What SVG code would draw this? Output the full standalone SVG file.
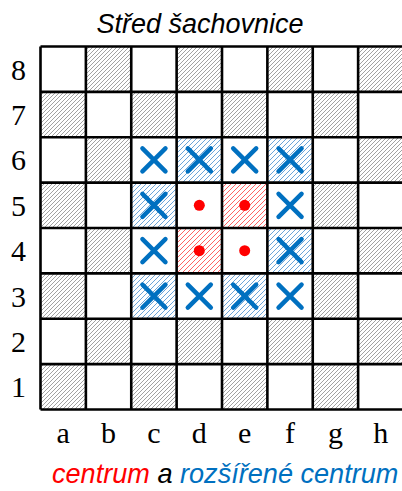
<svg xmlns="http://www.w3.org/2000/svg" xmlns:xlink="http://www.w3.org/1999/xlink" width="402" height="491" viewBox="0 0 402 491">
<style>
.lbl{font-family:"Liberation Serif","DejaVu Serif",serif;font-size:30px;fill:#000;text-anchor:middle}
.it{font-family:"Liberation Sans","DejaVu Sans",sans-serif;font-style:italic;font-size:27px}
.g{fill:url(#hg)}
.b{fill:url(#hb)}
.r{fill:url(#hr)}
.x{stroke:#0070C0;stroke-width:4.5;stroke-linecap:round;fill:none}
.dot{fill:#FF0000}
.grid{stroke:#000;stroke-width:2.6;fill:none}
</style>
<defs>
<pattern id="hg" patternUnits="userSpaceOnUse" width="4" height="4">
<rect width="4" height="4" fill="#fff"/>
<path d="M-1,1 L1,-1 M0,4 L4,0 M3,5 L5,3" stroke="#8a8a8a" stroke-width="0.8"/>
</pattern>
<pattern id="hb" patternUnits="userSpaceOnUse" width="5" height="5">
<rect width="5" height="5" fill="#fff"/>
<path d="M-1,1 L1,-1 M0,5 L5,0 M4,6 L6,4" stroke="#5B9BD5" stroke-width="0.9"/>
</pattern>
<pattern id="hr" patternUnits="userSpaceOnUse" width="5" height="5">
<rect width="5" height="5" fill="#fff"/>
<path d="M-1,1 L1,-1 M0,5 L5,0 M4,6 L6,4" stroke="#FF5050" stroke-width="0.9"/>
</pattern>
<path id="xm" class="x" d="M-11.5,-11.5 L11.5,11.5 M11.5,-11.5 L-11.5,11.5"/>
</defs>
<rect width="402" height="491" fill="#fff"/>
<text class="it" x="200" y="33" text-anchor="middle" fill="#000">Střed šachovnice</text>
<g id="board">
<g id="dark-squares">
<rect class="g" x="85.875" y="46.5" width="45.375" height="45.375"/>
<rect class="g" x="176.625" y="46.5" width="45.375" height="45.375"/>
<rect class="g" x="267.375" y="46.5" width="45.375" height="45.375"/>
<rect class="g" x="358.125" y="46.5" width="45.375" height="45.375"/>
<rect class="g" x="40.5" y="91.875" width="45.375" height="45.375"/>
<rect class="g" x="131.25" y="91.875" width="45.375" height="45.375"/>
<rect class="g" x="222" y="91.875" width="45.375" height="45.375"/>
<rect class="g" x="312.75" y="91.875" width="45.375" height="45.375"/>
<rect class="g" x="85.875" y="137.25" width="45.375" height="45.375"/>
<rect class="g" x="358.125" y="137.25" width="45.375" height="45.375"/>
<rect class="g" x="40.5" y="182.625" width="45.375" height="45.375"/>
<rect class="g" x="312.75" y="182.625" width="45.375" height="45.375"/>
<rect class="g" x="85.875" y="228" width="45.375" height="45.375"/>
<rect class="g" x="358.125" y="228" width="45.375" height="45.375"/>
<rect class="g" x="40.5" y="273.375" width="45.375" height="45.375"/>
<rect class="g" x="312.75" y="273.375" width="45.375" height="45.375"/>
<rect class="g" x="85.875" y="318.75" width="45.375" height="45.375"/>
<rect class="g" x="176.625" y="318.75" width="45.375" height="45.375"/>
<rect class="g" x="267.375" y="318.75" width="45.375" height="45.375"/>
<rect class="g" x="358.125" y="318.75" width="45.375" height="45.375"/>
<rect class="g" x="40.5" y="364.125" width="45.375" height="45.375"/>
<rect class="g" x="131.25" y="364.125" width="45.375" height="45.375"/>
<rect class="g" x="222" y="364.125" width="45.375" height="45.375"/>
<rect class="g" x="312.75" y="364.125" width="45.375" height="45.375"/>
</g>
<g id="extended-center">
<rect class="b" x="176.625" y="137.25" width="45.375" height="45.375"/>
<rect class="b" x="267.375" y="137.25" width="45.375" height="45.375"/>
<rect class="b" x="131.25" y="182.625" width="45.375" height="45.375"/>
<rect class="b" x="267.375" y="228" width="45.375" height="45.375"/>
<rect class="b" x="131.25" y="273.375" width="45.375" height="45.375"/>
<rect class="b" x="222" y="273.375" width="45.375" height="45.375"/>
</g>
<g id="center">
<rect class="r" x="222" y="182.625" width="45.375" height="45.375"/>
<rect class="r" x="176.625" y="228" width="45.375" height="45.375"/>
</g>
<path id="grid" class="grid" d="M40.5,46.5 H403.5 M40.5,91.875 H403.5 M40.5,137.25 H403.5 M40.5,182.625 H403.5 M40.5,228 H403.5 M40.5,273.375 H403.5 M40.5,318.75 H403.5 M40.5,364.125 H403.5 M40.5,409.5 H403.5 M40.5,46.5 V409.5 M85.875,46.5 V409.5 M131.25,46.5 V409.5 M176.625,46.5 V409.5 M222,46.5 V409.5 M267.375,46.5 V409.5 M312.75,46.5 V409.5 M358.125,46.5 V409.5 M403.5,46.5 V409.5"/>
<g id="crosses">
<use xlink:href="#xm" x="153.94" y="159.94"/>
<use xlink:href="#xm" x="199.31" y="159.94"/>
<use xlink:href="#xm" x="244.69" y="159.94"/>
<use xlink:href="#xm" x="290.06" y="159.94"/>
<use xlink:href="#xm" x="153.94" y="205.31"/>
<use xlink:href="#xm" x="290.06" y="205.31"/>
<use xlink:href="#xm" x="153.94" y="250.69"/>
<use xlink:href="#xm" x="290.06" y="250.69"/>
<use xlink:href="#xm" x="153.94" y="296.06"/>
<use xlink:href="#xm" x="199.31" y="296.06"/>
<use xlink:href="#xm" x="244.69" y="296.06"/>
<use xlink:href="#xm" x="290.06" y="296.06"/>
</g>
<g id="dots">
<circle class="dot" cx="199.31" cy="205.31" r="5.5"/>
<circle class="dot" cx="244.69" cy="205.31" r="5.5"/>
<circle class="dot" cx="199.31" cy="250.69" r="5.5"/>
<circle class="dot" cx="244.69" cy="250.69" r="5.5"/>
</g>
</g>
<g id="rank-labels">
<text class="lbl" x="18.5" y="79.6">8</text>
<text class="lbl" x="18.5" y="125">7</text>
<text class="lbl" x="18.5" y="170.3">6</text>
<text class="lbl" x="18.5" y="215.7">5</text>
<text class="lbl" x="18.5" y="261.1">4</text>
<text class="lbl" x="18.5" y="306.5">3</text>
<text class="lbl" x="18.5" y="351.8">2</text>
<text class="lbl" x="18.5" y="397.2">1</text>
</g>
<g id="file-labels">
<text class="lbl" x="63.19" y="443">a</text>
<text class="lbl" x="108.56" y="443">b</text>
<text class="lbl" x="153.94" y="443">c</text>
<text class="lbl" x="199.31" y="443">d</text>
<text class="lbl" x="244.69" y="443">e</text>
<text class="lbl" x="290.06" y="443">f</text>
<text class="lbl" x="335.44" y="443">g</text>
<text class="lbl" x="380.81" y="443">h</text>
</g>
<text class="it" x="52" y="483" style="font-size:27.1px"><tspan fill="#FF0000">centrum</tspan> <tspan fill="#000">a</tspan> <tspan fill="#0070C0">rozšířené centrum</tspan></text>
</svg>
